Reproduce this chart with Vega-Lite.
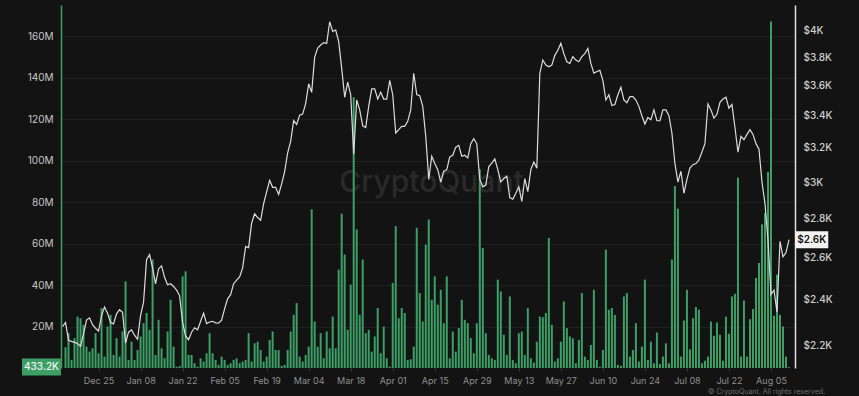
{
"$schema": "https://vega.github.io/schema/vega-lite/v6.json",
"width": 734, "height": 363,
"autosize": {"type": "none"},
"padding": {"left": 61, "top": 5, "right": 64, "bottom": 28},
"background": "#131313",
"config": {"view": {"stroke": null}, "font": "Inter",
 "axisX": {"title":null,"labelColor":"#8f8f8f","labelFontSize":9,"tickSize":3,"tickColor":"#3a3a3a","domain":false,"grid":false,"labelPadding":5,"labelFlush":false,"labelOverlap":false}},
"datasets": {
"main": [
{"d":"2023-12-13","p":2282},
{"d":"2023-12-14","v":10.0,"p":2300},{"d":"2023-12-15","v":16.8,"p":2224},{"d":"2023-12-16","v":3.9,"p":2219},{"d":"2023-12-17","v":14.4,"p":2215},{"d":"2023-12-18","v":24.8,"p":2210},{"d":"2023-12-19","v":24.0,"p":2198},{"d":"2023-12-20","v":20.8,"p":2250},{"d":"2023-12-21","v":10.3,"p":2310},{"d":"2023-12-22","v":7.9,"p":2320},{"d":"2023-12-23","v":9.5,"p":2290},{"d":"2023-12-24","v":16.8,"p":2275},{"d":"2023-12-25","v":7.1,"p":2263},{"d":"2023-12-26","v":28.9,"p":2330},{"d":"2023-12-27","v":5.5,"p":2368},{"d":"2023-12-28","v":20.0,"p":2340},{"d":"2023-12-29","v":25.6,"p":2300},{"d":"2023-12-30","v":6.3,"p":2294},{"d":"2023-12-31","v":14.4,"p":2338},
{"d":"2024-01-01","v":5.5,"p":2356},{"d":"2024-01-02","v":17.6,"p":2345},{"d":"2024-01-03","v":41.8,"p":2212},{"d":"2024-01-04","v":3.9,"p":2258},{"d":"2024-01-05","v":12.7,"p":2268},{"d":"2024-01-06","v":3.9,"p":2245},{"d":"2024-01-07","v":8.7,"p":2228},{"d":"2024-01-08","v":15.2,"p":2330},{"d":"2024-01-09","v":21.6,"p":2390},{"d":"2024-01-10","v":26.5,"p":2590},{"d":"2024-01-11","v":18.4,"p":2615},{"d":"2024-01-12","v":52.3,"p":2550},{"d":"2024-01-13","v":6.3,"p":2474},{"d":"2024-01-14","v":23.2,"p":2545},{"d":"2024-01-15","v":9.5,"p":2560},{"d":"2024-01-16","v":4.7,"p":2505},{"d":"2024-01-17","v":17.6,"p":2470},{"d":"2024-01-18","v":32.9,"p":2475},{"d":"2024-01-19","v":10.3,"p":2462},{"d":"2024-01-20","v":0.6,"p":2445},{"d":"2024-01-21","v":1.0,"p":2420},{"d":"2024-01-22","v":44.2,"p":2300},{"d":"2024-01-23","v":46.6,"p":2242},{"d":"2024-01-24","v":6.3,"p":2226},{"d":"2024-01-25","v":6.3,"p":2258},{"d":"2024-01-26","v":2.3,"p":2277},{"d":"2024-01-27","v":0.6,"p":2268},{"d":"2024-01-28","v":4.7,"p":2305},{"d":"2024-01-29","v":3.1,"p":2341},{"d":"2024-01-30","v":7.1,"p":2295},{"d":"2024-01-31","v":16.8,"p":2302},
{"d":"2024-02-01","v":7.1,"p":2305},{"d":"2024-02-02","v":3.9,"p":2298},{"d":"2024-02-03","v":1.5,"p":2297},{"d":"2024-02-04","v":5.5,"p":2310},{"d":"2024-02-05","v":3.9,"p":2360},{"d":"2024-02-06","v":1.5,"p":2405},{"d":"2024-02-07","v":2.3,"p":2424},{"d":"2024-02-08","v":3.9,"p":2475},{"d":"2024-02-09","v":4.7,"p":2492},{"d":"2024-02-10","v":2.3,"p":2507},{"d":"2024-02-11","v":3.1,"p":2550},{"d":"2024-02-12","v":3.9,"p":2655},{"d":"2024-02-13","v":16.8,"p":2650},{"d":"2024-02-14","v":3.1,"p":2775},{"d":"2024-02-15","v":11.9,"p":2825},{"d":"2024-02-16","v":12.7,"p":2805},{"d":"2024-02-17","v":8.7,"p":2790},{"d":"2024-02-18","v":3.1,"p":2880},{"d":"2024-02-19","v":5.5,"p":2945},{"d":"2024-02-20","v":13.5,"p":3010},{"d":"2024-02-21","v":17.6,"p":2970},{"d":"2024-02-22","v":8.7,"p":2970},{"d":"2024-02-23","v":8.7,"p":2930},{"d":"2024-02-24","v":1.0,"p":2990},{"d":"2024-02-25","v":1.5,"p":3060},{"d":"2024-02-26","v":8.7,"p":3170},{"d":"2024-02-27","v":17.6,"p":3240},{"d":"2024-02-28","v":25.6,"p":3370},{"d":"2024-02-29","v":31.3,"p":3345},
{"d":"2024-03-01","v":5.5,"p":3405},{"d":"2024-03-02","v":3.1,"p":3412},{"d":"2024-03-03","v":6.3,"p":3480},{"d":"2024-03-04","v":10.3,"p":3613},{"d":"2024-03-05","v":76.5,"p":3555},{"d":"2024-03-06","v":22.4,"p":3800},{"d":"2024-03-07","v":10.3,"p":3865},{"d":"2024-03-08","v":16.8,"p":3888},{"d":"2024-03-09","v":4.7,"p":3906},{"d":"2024-03-10","v":17.6,"p":3900},{"d":"2024-03-11","v":9.5,"p":4063},{"d":"2024-03-12","v":24.8,"p":3990},{"d":"2024-03-13","v":9.5,"p":4000},{"d":"2024-03-14","v":47.4,"p":3913},{"d":"2024-03-15","v":74.4,"p":3720},{"d":"2024-03-16","v":54.7,"p":3522},{"d":"2024-03-17","v":18.4,"p":3624},{"d":"2024-03-18","v":40.2,"p":3539},{"d":"2024-03-19","v":130.5,"p":3164},{"d":"2024-03-20","v":66.8,"p":3504},{"d":"2024-03-21","v":25.6,"p":3439},{"d":"2024-03-22","v":52.3,"p":3337},{"d":"2024-03-23","v":16.8,"p":3326},{"d":"2024-03-24","v":18.4,"p":3462},{"d":"2024-03-25","v":7.9,"p":3578},{"d":"2024-03-26","v":15.2,"p":3578},{"d":"2024-03-27","v":28.9,"p":3510},{"d":"2024-03-28","v":7.1,"p":3555},{"d":"2024-03-29","v":20.0,"p":3510},{"d":"2024-03-30","v":4.7,"p":3510},{"d":"2024-03-31","v":0.6,"p":3637},
{"d":"2024-04-01","v":41.0,"p":3539},{"d":"2024-04-02","v":68.4,"p":3292},{"d":"2024-04-03","v":24.0,"p":3313},{"d":"2024-04-04","v":28.9,"p":3333},{"d":"2024-04-05","v":26.5,"p":3333},{"d":"2024-04-06","v":3.9,"p":3365},{"d":"2024-04-07","v":4.2,"p":3439},{"d":"2024-04-08","v":10.3,"p":3686},{"d":"2024-04-09","v":67.6,"p":3540},{"d":"2024-04-10","v":36.1,"p":3533},{"d":"2024-04-11","v":22.4,"p":3462},{"d":"2024-04-12","v":59.5,"p":3271},{"d":"2024-04-13","v":71.6,"p":3015},{"d":"2024-04-14","v":32.9,"p":3150},{"d":"2024-04-15","v":44.2,"p":3107},{"d":"2024-04-16","v":30.5,"p":3071},{"d":"2024-04-17","v":37.7,"p":2999},{"d":"2024-04-18","v":21.6,"p":3062},{"d":"2024-04-19","v":44.2,"p":3071},{"d":"2024-04-20","v":4.7,"p":3146},{"d":"2024-04-21","v":17.6,"p":3156},{"d":"2024-04-22","v":7.9,"p":3205},{"d":"2024-04-23","v":19.2,"p":3216},{"d":"2024-04-24","v":32.9,"p":3150},{"d":"2024-04-25","v":23.2,"p":3156},{"d":"2024-04-26","v":21.6,"p":3140},{"d":"2024-04-27","v":14.4,"p":3226},{"d":"2024-04-28","v":7.1,"p":3257},{"d":"2024-04-29","v":21.6,"p":3225},{"d":"2024-04-30","v":95.8,"p":3015},
{"d":"2024-05-01","v":57.9,"p":2973},{"d":"2024-05-02","v":16.8,"p":2983},{"d":"2024-05-03","v":6.3,"p":3089},{"d":"2024-05-04","v":4.7,"p":3110},{"d":"2024-05-05","v":3.9,"p":3134},{"d":"2024-05-06","v":42.6,"p":3071},{"d":"2024-05-07","v":36.9,"p":3000},{"d":"2024-05-08","v":16.0,"p":3020},{"d":"2024-05-09","v":6.3,"p":3033},{"d":"2024-05-10","v":34.5,"p":2913},{"d":"2024-05-11","v":3.9,"p":2904},{"d":"2024-05-12","v":2.3,"p":2937},{"d":"2024-05-13","v":16.8,"p":2973},{"d":"2024-05-14","v":17.6,"p":2892},{"d":"2024-05-15","v":6.3,"p":3020},{"d":"2024-05-16","v":28.9,"p":2946},{"d":"2024-05-17","v":4.7,"p":3071},{"d":"2024-05-18","v":2.6,"p":3116},{"d":"2024-05-19","v":12.7,"p":3080},{"d":"2024-05-20","v":24.8,"p":3686},{"d":"2024-05-21","v":24.5,"p":3779},{"d":"2024-05-22","v":26.5,"p":3743},{"d":"2024-05-23","v":62.7,"p":3731},{"d":"2024-05-24","v":20.8,"p":3743},{"d":"2024-05-25","v":3.1,"p":3813},{"d":"2024-05-26","v":4.7,"p":3850},{"d":"2024-05-27","v":12.7,"p":3901},{"d":"2024-05-28","v":32.1,"p":3825},{"d":"2024-05-29","v":19.2,"p":3767},{"d":"2024-05-30","v":15.2,"p":3755},{"d":"2024-05-31","v":14.4,"p":3804},
{"d":"2024-06-01","v":2.3,"p":3779},{"d":"2024-06-02","v":13.5,"p":3767},{"d":"2024-06-03","v":36.1,"p":3804},{"d":"2024-06-04","v":5.5,"p":3825},{"d":"2024-06-05","v":3.9,"p":3863},{"d":"2024-06-06","v":11.1,"p":3755},{"d":"2024-06-07","v":37.7,"p":3686},{"d":"2024-06-08","v":3.9,"p":3698},{"d":"2024-06-09","v":0.6,"p":3706},{"d":"2024-06-10","v":8.7,"p":3637},{"d":"2024-06-11","v":57.1,"p":3504},{"d":"2024-06-12","v":28.1,"p":3539},{"d":"2024-06-13","v":28.9,"p":3467},{"d":"2024-06-14","v":25.6,"p":3474},{"d":"2024-06-15","v":1.5,"p":3539},{"d":"2024-06-16","v":1.0,"p":3590},{"d":"2024-06-17","v":34.5,"p":3504},{"d":"2024-06-18","v":36.1,"p":3486},{"d":"2024-06-19","v":5.5,"p":3526},{"d":"2024-06-20","v":8.7,"p":3526},{"d":"2024-06-21","v":21.6,"p":3504},{"d":"2024-06-22","v":3.1,"p":3462},{"d":"2024-06-23","v":10.3,"p":3401},{"d":"2024-06-24","v":42.6,"p":3348},{"d":"2024-06-25","v":3.9,"p":3390},{"d":"2024-06-26","v":12.7,"p":3375},{"d":"2024-06-27","v":2.3,"p":3439},{"d":"2024-06-28","v":17.1,"p":3369},{"d":"2024-06-29","v":1.9,"p":3369},{"d":"2024-06-30","v":5.5,"p":3439},
{"d":"2024-07-01","v":11.9,"p":3439},{"d":"2024-07-02","v":2.3,"p":3401},{"d":"2024-07-03","v":52.3,"p":3292},{"d":"2024-07-04","v":87.7,"p":3107},{"d":"2024-07-05","v":76.8,"p":2999},{"d":"2024-07-06","v":5.5,"p":3062},{"d":"2024-07-07","v":22.9,"p":2937},{"d":"2024-07-08","v":37.7,"p":3015},{"d":"2024-07-09","v":9.0,"p":3080},{"d":"2024-07-10","v":24.0,"p":3100},{"d":"2024-07-11","v":29.4,"p":3107},{"d":"2024-07-12","v":28.1,"p":3128},{"d":"2024-07-13","v":2.3,"p":3175},{"d":"2024-07-14","v":3.5,"p":3226},{"d":"2024-07-15","v":5.5,"p":3478},{"d":"2024-07-16","v":22.4,"p":3439},{"d":"2024-07-17","v":15.5,"p":3386},{"d":"2024-07-18","v":21.9,"p":3410},{"d":"2024-07-19","v":16.0,"p":3489},{"d":"2024-07-20","v":3.5,"p":3510},{"d":"2024-07-21","v":24.8,"p":3522},{"d":"2024-07-22","v":16.5,"p":3450},{"d":"2024-07-23","v":34.5,"p":3474},{"d":"2024-07-24","v":35.8,"p":3326},{"d":"2024-07-25","v":91.8,"p":3175},{"d":"2024-07-26","v":5.5,"p":3271},{"d":"2024-07-27","v":32.6,"p":3250},{"d":"2024-07-28","v":5.5,"p":3283},{"d":"2024-07-29","v":23.5,"p":3313},{"d":"2024-07-30","v":28.4,"p":3283},{"d":"2024-07-31","v":43.4,"p":3226},
{"d":"2024-08-01","v":50.6,"p":3193},{"d":"2024-08-02","v":69.2,"p":3000},{"d":"2024-08-03","v":74.8,"p":2880},{"d":"2024-08-04","v":94.5,"p":2690},{"d":"2024-08-05","v":167.1,"p":2425},{"d":"2024-08-06","v":25.2,"p":2445},{"d":"2024-08-07","v":45.0,"p":2346},{"d":"2024-08-08","v":25.6,"p":2682},{"d":"2024-08-09","v":20.0,"p":2604},{"d":"2024-08-10","v":5.5,"p":2625},{"d":"2024-08-11","v":0.4332,"p":2690}
],
"volTag": [{"t":"433.2K","v":0.4332}],
"priceTag": [{"t":"$2.6K","p":2690}],
"brand": [{"t":"CryptoQuant"}],
"credit": [{"t":"© CryptoQuant. All rights reserved."}]
},
"layer": [
{"data": {"name":"brand"}, "mark": {"type":"text","fontSize":30,"fontWeight":500,"color":"#2a2a2a","clip":false},
 "encoding": {"x": {"datum": {"year":2024,"month":4,"date":13,"hours":22,"utc":true},"type":"temporal",
   "scale": {"type":"utc","padding":0,"domain":[{"year":2023,"month":12,"date":12,"hours":12,"utc":true},{"year":2024,"month":8,"date":13,"utc":true}]},
   "axis": {"labelExpr":"utcFormat(datum.value, '%b %d')","values":[{"year":2023,"month":12,"date":25,"utc":true},{"year":2024,"month":1,"date":8,"utc":true},{"year":2024,"month":1,"date":22,"utc":true},{"year":2024,"month":2,"date":5,"utc":true},{"year":2024,"month":2,"date":19,"utc":true},{"year":2024,"month":3,"date":4,"utc":true},{"year":2024,"month":3,"date":18,"utc":true},{"year":2024,"month":4,"date":1,"utc":true},{"year":2024,"month":4,"date":15,"utc":true},{"year":2024,"month":4,"date":29,"utc":true},{"year":2024,"month":5,"date":13,"utc":true},{"year":2024,"month":5,"date":27,"utc":true},{"year":2024,"month":6,"date":10,"utc":true},{"year":2024,"month":6,"date":24,"utc":true},{"year":2024,"month":7,"date":8,"utc":true},{"year":2024,"month":7,"date":22,"utc":true},{"year":2024,"month":8,"date":5,"utc":true}]}},
  "y": {"datum": 89,"type":"quantitative","scale":{"domain":[0,175],"nice":false},"axis":null},
  "text": {"field":"t","type":"nominal"}}},
{"data": {"name":"main"}, "mark": {"type":"bar","width":2,"color":"#3d9f66"},
 "encoding": {
  "x": {"field":"d","type":"temporal","scale":{"padding":0},
   "axis": {"labelExpr":"utcFormat(datum.value, '%b %d')","values":[{"year":2023,"month":12,"date":25,"utc":true},{"year":2024,"month":1,"date":8,"utc":true},{"year":2024,"month":1,"date":22,"utc":true},{"year":2024,"month":2,"date":5,"utc":true},{"year":2024,"month":2,"date":19,"utc":true},{"year":2024,"month":3,"date":4,"utc":true},{"year":2024,"month":3,"date":18,"utc":true},{"year":2024,"month":4,"date":1,"utc":true},{"year":2024,"month":4,"date":15,"utc":true},{"year":2024,"month":4,"date":29,"utc":true},{"year":2024,"month":5,"date":13,"utc":true},{"year":2024,"month":5,"date":27,"utc":true},{"year":2024,"month":6,"date":10,"utc":true},{"year":2024,"month":6,"date":24,"utc":true},{"year":2024,"month":7,"date":8,"utc":true},{"year":2024,"month":7,"date":22,"utc":true},{"year":2024,"month":8,"date":5,"utc":true}]}},
  "y": {"field":"v","type":"quantitative","scale":{"domain":[0,175],"nice":false,"zero":true},
   "axis": {"orient":"left","title":null,"values":[20,40,60,80,100,120,140,160],"labelExpr":"datum.value + 'M'","labelColor":"#c8c8c8","labelFontSize":10,"domainColor":"#3d9f66","domainWidth":1.5,"ticks":false,"tickSize":0,"labelPadding":8,"grid":true,"gridColor":"#1f1f1f"}}}},
{"data": {"name":"main"}, "mark": {"type":"line","color":"#dcdcdc","strokeWidth":1.2},
 "encoding": {"x": {"field":"d","type":"temporal",
   "axis": {"labelExpr":"utcFormat(datum.value, '%b %d')","values":[{"year":2023,"month":12,"date":25,"utc":true},{"year":2024,"month":1,"date":8,"utc":true},{"year":2024,"month":1,"date":22,"utc":true},{"year":2024,"month":2,"date":5,"utc":true},{"year":2024,"month":2,"date":19,"utc":true},{"year":2024,"month":3,"date":4,"utc":true},{"year":2024,"month":3,"date":18,"utc":true},{"year":2024,"month":4,"date":1,"utc":true},{"year":2024,"month":4,"date":15,"utc":true},{"year":2024,"month":4,"date":29,"utc":true},{"year":2024,"month":5,"date":13,"utc":true},{"year":2024,"month":5,"date":27,"utc":true},{"year":2024,"month":6,"date":10,"utc":true},{"year":2024,"month":6,"date":24,"utc":true},{"year":2024,"month":7,"date":8,"utc":true},{"year":2024,"month":7,"date":22,"utc":true},{"year":2024,"month":8,"date":5,"utc":true}]}},
  "y": {"field":"p","type":"quantitative","scale":{"type":"log","domain":[2110,4194],"nice":false},
   "axis": {"orient":"right","title":null,"values":[2200,2400,2600,2800,3000,3200,3400,3600,3800,4000],"labelExpr":"'$' + format(datum.value/1000, '~r') + 'K'","labelColor":"#d0d0d0","labelFontSize":10,"labelFontWeight":500,"domainColor":"#e0e0e0","domainWidth":1.5,"ticks":false,"tickSize":0,"labelPadding":8,"grid":false}}}},
{"data": {"name":"volTag"}, "mark": {"type":"point","shape":"M-1,-0.436L1,-0.436L1,0.436L-1,0.436Z","size":1521,"filled":true,"opacity":1,"color":"#3d9f66","clip":false},
 "encoding": {"x": {"datum": {"year":2023,"month":12,"date":6,"utc":true},"type":"temporal","axis":{"labelExpr":"utcFormat(datum.value, '%b %d')"}},
  "y": {"field":"v","type":"quantitative","scale":{"domain":[0,175],"nice":false},"axis":null}}},
{"data": {"name":"volTag"}, "mark": {"type":"text","fontSize":10,"fontWeight":500,"color":"#f4f4f4","clip":false},
 "encoding": {"x": {"datum": {"year":2023,"month":12,"date":6,"utc":true},"type":"temporal","axis":{"labelExpr":"utcFormat(datum.value, '%b %d')"}},
  "y": {"field":"v","type":"quantitative","scale":{"domain":[0,175],"nice":false},"axis":null},
  "text": {"field":"t","type":"nominal"}}},
{"data": {"name":"priceTag"}, "mark": {"type":"point","shape":"M-1,-0.515L1,-0.515L1,0.515L-1,0.515Z","size":1089,"filled":true,"opacity":1,"color":"#f2f2f2","clip":false},
 "encoding": {"x": {"datum": {"year":2024,"month":8,"date":18,"hours":14,"utc":true},"type":"temporal","axis":{"labelExpr":"utcFormat(datum.value, '%b %d')"}},
  "y": {"field":"p","type":"quantitative","scale":{"type":"log","domain":[2110,4194],"nice":false},"axis":null}}},
{"data": {"name":"priceTag"}, "mark": {"type":"text","fontSize":10,"fontWeight":600,"color":"#111111","clip":false},
 "encoding": {"x": {"datum": {"year":2024,"month":8,"date":18,"hours":14,"utc":true},"type":"temporal","axis":{"labelExpr":"utcFormat(datum.value, '%b %d')"}},
  "y": {"field":"p","type":"quantitative","scale":{"type":"log","domain":[2110,4194],"nice":false},"axis":null},
  "text": {"field":"t","type":"nominal"}}},
{"data": {"name":"credit"}, "mark": {"type":"text","fontSize":7,"color":"#6b6b6b","align":"right","baseline":"top","clip":false},
 "encoding": {"x": {"datum": {"year":2024,"month":8,"date":23,"utc":true},"type":"temporal","axis":{"labelExpr":"utcFormat(datum.value, '%b %d')"}},
  "y": {"datum": -9.5,"type":"quantitative","scale":{"domain":[0,175],"nice":false},"axis":null},
  "text": {"field":"t","type":"nominal"}}}
],
"resolve": {"scale": {"y": "independent"}}
}
